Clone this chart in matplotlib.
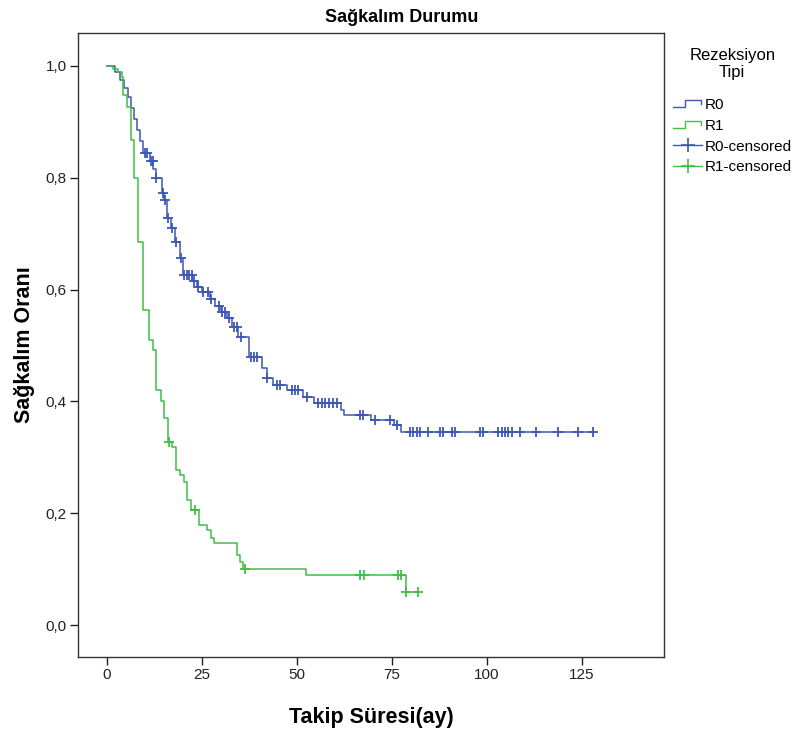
import matplotlib
matplotlib.use("Agg")
import matplotlib.pyplot as plt
from matplotlib.lines import Line2D
from matplotlib.legend_handler import HandlerBase
import numpy as np

plt.rcParams['font.family'] = ['Liberation Sans', 'DejaVu Sans']

# Kaplan-Meier steps: (time, survival after the drop)
r0_times = [0, 2.0, 3.5, 4.5, 5.5, 6.3, 7.0, 8.0, 8.8, 9.5, 11.3, 12.2, 13.0, 14.5,
            15.0, 15.8, 16.8, 17.9, 19.2, 20.0, 22.5, 23.7, 25.0, 27.0, 28.5, 30.0,
            31.5, 33.0, 34.5, 37.5, 40.8, 42.0, 43.7, 47.5, 51.5, 54.5, 61.5, 62.5,
            69.5, 75.5, 77.5]
r0_surv = [1.0, 0.99, 0.975, 0.96, 0.945, 0.925, 0.905, 0.885, 0.865, 0.845, 0.83,
           0.815, 0.80, 0.773, 0.76, 0.728, 0.71, 0.685, 0.657, 0.626, 0.615, 0.605,
           0.595, 0.583, 0.57, 0.56, 0.55, 0.533, 0.515, 0.48, 0.46, 0.442, 0.43,
           0.42, 0.408, 0.397, 0.385, 0.375, 0.367, 0.358, 0.345]
r0_censored = [10.0, 10.5, 11.5, 12.0, 13.0, 14.8, 15.2, 16.0, 17.2, 18.2, 19.5, 20.3,
               21.0, 21.7, 22.3, 23.0, 24.0, 25.3, 26.5, 27.5, 29.5, 30.3, 31.0, 32.0,
               33.5, 34.2, 35.3, 38.0, 38.8, 39.5, 42.0, 44.7, 45.5, 48.7, 49.5, 50.3,
               52.6, 55.5, 56.5, 57.5, 58.5, 59.5, 60.5, 66.6, 67.4, 70.5, 74.5, 76.2,
               79.7, 80.6, 81.5, 82.4, 84.6, 87.6, 88.5, 90.7, 91.6, 98.2, 98.9, 103.0,
               103.9, 104.7, 105.6, 106.5, 108.7, 112.9, 118.8, 124.0, 128.0]

r1_times = [0, 1.6, 2.9, 3.9, 4.3, 5.2, 6.2, 7.2, 8.2, 9.6, 11.0, 12.1, 13.0, 14.1,
            15.1, 16.1, 17.2, 18.2, 19.2, 20.2, 21.0, 22.0, 24.3, 26.2, 27.3, 28.2,
            34.3, 35.0, 35.9, 52.5, 78.6]
r1_surv = [1.0, 0.995, 0.99, 0.98, 0.948, 0.927, 0.868, 0.799, 0.686, 0.5635, 0.51,
           0.492, 0.42, 0.40, 0.37, 0.328, 0.319, 0.277, 0.268, 0.256, 0.224, 0.206,
           0.179, 0.17, 0.156, 0.146, 0.125, 0.113, 0.101, 0.089, 0.0596]
r1_censored = [16.3, 23.2, 36.3, 66.6, 67.6, 76.7, 77.5, 78.8, 81.8]

groups = ['R0', 'R1']
colors = {'R0': '#3d57b5', 'R1': '#3fbf44'}

x_ticks = [0, 25, 50, 75, 100, 125]
y_ticks = [0.0, 0.2, 0.4, 0.6, 0.8, 1.0]


def surv_at(times, surv, t):
    idx = np.searchsorted(times, t, side='right') - 1
    return np.asarray(surv)[idx]


class StepHandler(HandlerBase):
    def create_artists(self, legend, orig_handle, xdescent, ydescent, width, height,
                       fontsize, trans):
        xs = np.array([0, 0.42, 0.42, 0.95, 0.95]) * width - xdescent
        ys = np.array([0.15, 0.15, 0.85, 0.85, 0.45]) * height - ydescent
        line = Line2D(xs, ys, color=orig_handle.get_color(), lw=1.0, transform=trans)
        return [line]


fig = plt.figure(figsize=(8.04, 7.31), dpi=100)
ax = fig.add_axes([78 / 804, 74 / 731, 586 / 804, 624 / 731])

data = {
    'R0': (r0_times, r0_surv, r0_censored),
    'R1': (r1_times, r1_surv, r1_censored),
}
step_handles = []
cens_handles = []
for g in groups:
    times, surv, cens = data[g]
    t_end = max(max(times), max(cens))
    xs = list(times) + [t_end]
    ys = list(surv) + [surv[-1]]
    h, = ax.step(xs, ys, where='post', color=colors[g], lw=1.1)
    cy = [surv_at(times, surv, c) for c in cens]
    ax.plot(cens, cy, linestyle='none', marker='+', markersize=7, mew=1.3,
            color=colors[g])
    step_handles.append(h)
    cens_handles.append(Line2D([], [], color=colors[g], lw=1.0, marker='+',
                               markersize=10, mew=1.2))

ax.set_xlim(-7.63, 146.6)
ax.set_ylim(-0.057, 1.059)
ax.set_xticks(x_ticks)
ax.set_yticks(y_ticks)
ax.set_yticklabels([f"{v:.1f}".replace('.', ',') for v in y_ticks])
ax.tick_params(direction='out', length=6, width=1, labelsize=11, colors='#222222',
               pad=2)
for s in ax.spines.values():
    s.set_linewidth(1.0)
    s.set_color('#333333')

ax.set_xlabel('Takip Süresi(ay)', fontsize=15.5, fontweight='bold', labelpad=18)
ax.set_ylabel('Sağkalım Oranı', fontsize=15.5, fontweight='bold', labelpad=8)
fig.text(0.5, 1 - 18 / 731, 'Sağkalım Durumu', ha='center', va='center',
         fontsize=13, fontweight='bold')

leg = fig.legend(step_handles + cens_handles,
                 ['R0', 'R1', 'R0-censored', 'R1-censored'],
                 handler_map={h: StepHandler() for h in step_handles},
                 loc='upper left', bbox_to_anchor=(673 / 804, 1 - 48 / 731),
                 frameon=False, fontsize=11, title='Rezeksiyon\nTipi',
                 title_fontsize=12, handlelength=1.9, handletextpad=0.15,
                 labelspacing=0.45, borderaxespad=0, borderpad=0)
leg.get_title().set_multialignment('center')
leg._legend_box.sep = 12.5  # wider gap between title and entries

fig.savefig('out.png', dpi=100)
